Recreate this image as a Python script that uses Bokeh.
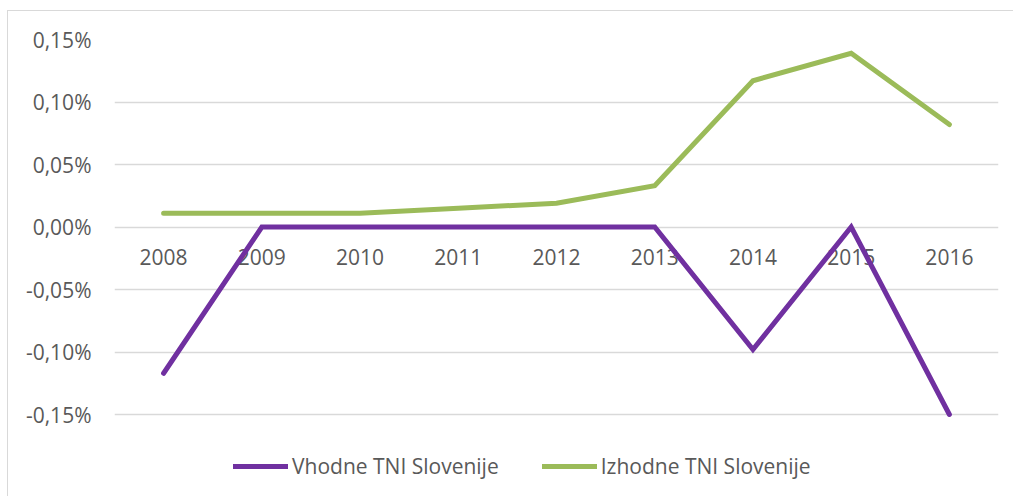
from bokeh.plotting import figure
from bokeh.models import FactorRange, Range1d, FixedTicker, Legend, LegendItem, ColumnDataSource
from bokeh.core.properties import value
from bokeh.embed import file_html
from bokeh.resources import INLINE

years = ["2008", "2009", "2010", "2011", "2012", "2013", "2014", "2015", "2016"]
vhodne = [-0.117, 0.0, 0.0, 0.0, 0.0, 0.0, -0.098, 0.0, -0.15]
izhodne = [0.011, 0.011, 0.011, 0.015, 0.019, 0.033, 0.117, 0.139, 0.082]
y_ticks = [-0.15, -0.10, -0.05, 0.0, 0.05, 0.10, 0.15]
y_labels = ["-0,15%", "-0,10%", "-0,05%", "0,00%", "0,05%", "0,10%", "0,15%"]
series_names = ["Vhodne TNI Slovenije", "Izhodne TNI Slovenije"]

FONT = "Open Sans"
TXT = "#595959"

# frame spans 0.15% down to below -0.15% so that the legend fits inside it
p = figure(width=1006, height=486, x_range=FactorRange(*years), y_range=Range1d(-0.21, 0.15),
           output_backend="svg", toolbar_location=None,
           min_border_left=106, min_border_right=16, min_border_top=28, min_border_bottom=8)
p.styles = {"border-left": "1px solid #d9d9d9", "border-top": "1px solid #d9d9d9",
            "margin-left": "7px", "margin-top": "10px"}
p.outline_line_color = None
p.background_fill_color = "white"
p.border_fill_color = "white"

p.xaxis.visible = False
p.xgrid.grid_line_color = None
p.ygrid.grid_line_color = "#d9d9d9"
p.ygrid.grid_line_width = 1.5
p.yaxis.ticker = FixedTicker(ticks=y_ticks)
p.ygrid.ticker = FixedTicker(ticks=y_ticks)
p.yaxis.major_label_overrides = dict(zip(y_ticks, y_labels))
p.yaxis.axis_line_color = None
p.yaxis.major_tick_line_color = None
p.yaxis.minor_tick_line_color = None
p.yaxis.major_tick_out = 0
p.yaxis.major_label_standoff = 23
p.yaxis.major_label_text_font = FONT
p.yaxis.major_label_text_font_size = "21px"
p.yaxis.major_label_text_color = TXT

lab = ColumnDataSource(dict(x=years, y=[0.0] * len(years), t=years))
p.text(x="x", y="y", text="t", source=lab, text_font=value(FONT), text_font_size="21px",
       text_color=TXT, text_align="center", text_baseline="middle", y_offset=30)

r1 = p.line(years, vhodne, line_color="#7030A0", line_width=5, line_cap="round", line_join="miter")
r2 = p.line(years, izhodne, line_color="#9BBB59", line_width=5, line_cap="round", line_join="miter")

legend = Legend(items=[LegendItem(label=series_names[0], renderers=[r1]),
                       LegendItem(label=series_names[1], renderers=[r2])],
                orientation="horizontal", location=(119, 9), padding=0, margin=0,
                spacing=43, glyph_width=55, glyph_height=20, label_standoff=4,
                label_text_font=FONT, label_text_font_size="21px", label_text_color=TXT,
                border_line_color=None, background_fill_alpha=0)
p.add_layout(legend, "center")

open("out.html", "w").write(file_html(p, INLINE))
